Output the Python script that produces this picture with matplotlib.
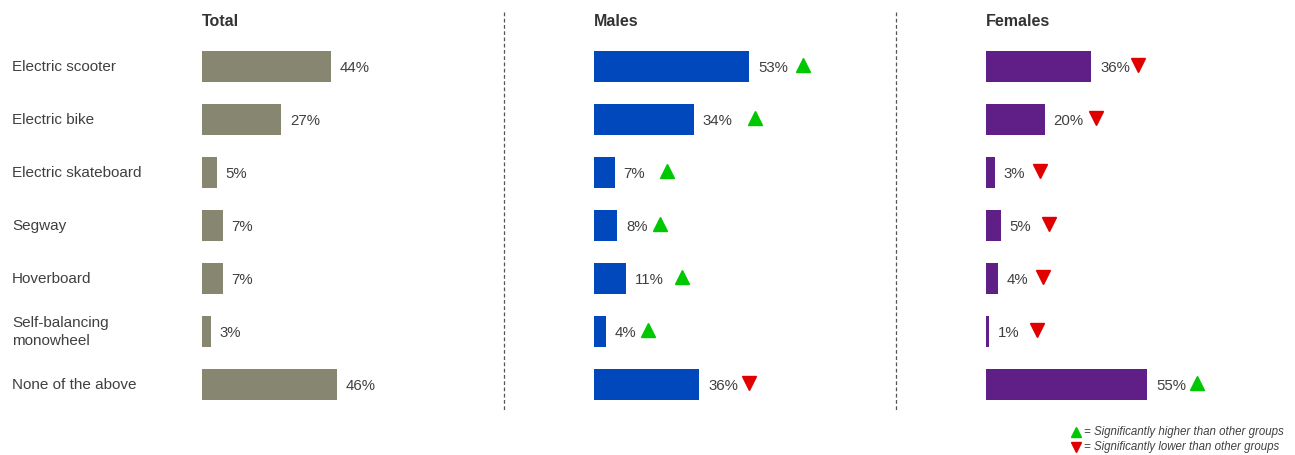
import numpy as np
from matplotlib import pyplot as plt
from matplotlib.lines import Line2D

plt.rcParams['font.family'] = ['Liberation Sans', 'DejaVu Sans']

# Dados do gráfico
categorias = ['Electric scooter', 'Electric bike', 'Electric skateboard', 'Segway',
              'Hoverboard', 'Self-balancing\nmonowheel', 'None of the above']
grupos = ['Total', 'Males', 'Females']
total = [44, 27, 5, 7, 7, 3, 46]
homens = [53, 34, 7, 8, 11, 4, 36]
mulheres = [36, 20, 3, 5, 4, 1, 55]
# 1 = significativamente maior, -1 = menor, 0 = sem marca
sig_homens = [1, 1, 1, 1, 1, 1, -1]
sig_mulheres = [-1, -1, -1, -1, -1, -1, 1]

cores = ['#878670', '#0048BB', '#5F1F86']
# distância da seta até o fim da barra (em %)
gap_homens = [18.5, 21, 18, 14.5, 19, 14.5, 17]
gap_mulheres = [16, 17.5, 15.5, 16.5, 15.5, 16.5, 17]

W, H = 1295, 455
px_por_pct = 2.93
fig = plt.figure(figsize=(W / 100, H / 100), dpi=100)

inicios = [202, 594, 986]
larg = 290
valores = [total, homens, mulheres]
sigs = [None, sig_homens, sig_mulheres]
gaps = [None, gap_homens, gap_mulheres]
y = np.arange(len(categorias))
cor_txt = '#404040'

for k in range(3):
    ax = fig.add_axes([inicios[k] / W, 1 - 411 / H, larg / W, 371 / H])
    ax.set_xlim(0, larg / px_por_pct)
    ax.set_ylim(len(categorias) - 0.5, -0.5)
    ax.axis('off')
    ax.barh(y, valores[k], height=0.6, color=cores[k])
    for i, v in enumerate(valores[k]):
        ax.text(v + 3, i + 0.02, f'{v}%', va='center', ha='left', fontsize=10.8, color=cor_txt)
        if sigs[k] is not None:
            s = sigs[k][i]
            if s == 1:
                ax.plot(v + gaps[k][i], i - 0.03, marker='^', color='#00C800', markersize=10.5)
            elif s == -1:
                ax.plot(v + gaps[k][i], i - 0.03, marker='v', color='#E00000', markersize=10.5)
    fig.text(inicios[k] / W, 1 - 22 / H, grupos[k], fontsize=11.5, fontweight='bold',
             color='#333333', ha='left', va='center')

# Rótulos das categorias
for i, c in enumerate(categorias):
    fig.text(12 / W, 1 - (67 + 53 * i) / H, c, fontsize=11, color=cor_txt,
             ha='left', va='center', linespacing=1.4)

# Linhas tracejadas separando os painéis
for xp in [504, 896]:
    fig.add_artist(Line2D([xp / W, xp / W], [1 - 12 / H, 1 - 410 / H],
                          color='#555555', linestyle=(0, (3, 2)), linewidth=0.9))

# Legenda das setas
fig.add_artist(Line2D([1076 / W], [1 - 432 / H], marker='^', color='#00C800', markersize=6.5))
fig.add_artist(Line2D([1076 / W], [1 - 447 / H], marker='v', color='#E00000', markersize=6.5))
fig.text(1084 / W, 1 - 432 / H, '= Significantly higher than other groups', fontsize=8.3,
         style='italic', color=cor_txt, ha='left', va='center')
fig.text(1084 / W, 1 - 447 / H, '= Significantly lower than other groups', fontsize=8.3,
         style='italic', color=cor_txt, ha='left', va='center')

plt.savefig('out.png', dpi=100)
